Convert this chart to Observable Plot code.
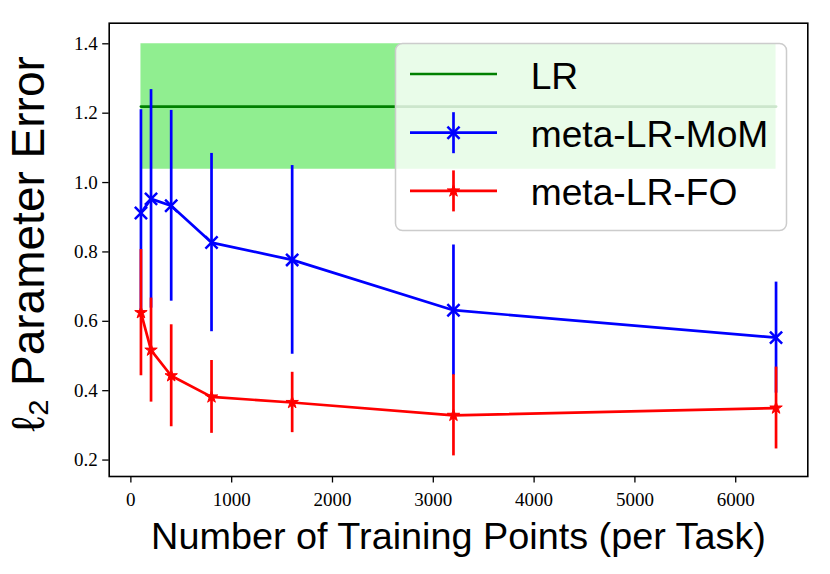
<!DOCTYPE html>
<html>
<head>
<meta charset="utf-8">
<script src="https://cdn.jsdelivr.net/npm/d3@7"></script>
<script src="https://cdn.jsdelivr.net/npm/@observablehq/plot@0.6"></script>
<style>
  html, body { margin: 0; padding: 0; background: #fff; }
  #wrap { position: relative; width: 830px; height: 574px; }
  #legend { position: absolute; left: 0; top: 0; }
</style>
</head>
<body>
<div id="wrap"></div>
<script>
// ---- data ----
const trainPoints = [100, 200, 400, 800, 1600, 3200, 6400];
const momMean = [0.912, 0.953, 0.933, 0.827, 0.777, 0.632, 0.553];
const momErr  = [0.298, 0.315, 0.275, 0.257, 0.272, 0.188, 0.160];
const foMean  = [0.625, 0.517, 0.443, 0.382, 0.366, 0.329, 0.350];
const foErr   = [0.182, 0.150, 0.147, 0.105, 0.087, 0.117, 0.118];
const lrMean = 1.219;
const lrStd = 0.181;
const xTicks = [0, 1000, 2000, 3000, 4000, 5000, 6000];
const yTicks = [0.2, 0.4, 0.6, 0.8, 1.0, 1.2, 1.4];
const seriesNames = ["LR", "meta-LR-MoM", "meta-LR-FO"];
const seriesColors = ["green", "blue", "red"];
const xLabel = "Number of Training Points (per Task)";
const yLabel = "ℓ₂ Parameter Error";

// ---- tables ----
const mom = trainPoints.map((x, i) => ({x, y: momMean[i], lo: momMean[i] - momErr[i], hi: momMean[i] + momErr[i]}));
const fo = trainPoints.map((x, i) => ({x, y: foMean[i], lo: foMean[i] - foErr[i], hi: foMean[i] + foErr[i]}));
const lr = trainPoints.map(x => ({x, y: lrMean, lo: lrMean - lrStd, hi: lrMean + lrStd}));

// matplotlib-like 5% margins
function padded(lo, hi) { const m = (hi - lo) * 0.05; return [lo - m, hi + m]; }
const allY = [...mom, ...fo, ...lr].flatMap(d => [d.lo, d.hi]);
const yDomain = padded(d3.min(allY), d3.max(allY));
const xDomain = padded(d3.min(trainPoints), d3.max(trainPoints));

const sans = "'Liberation Sans', Arial, sans-serif";
const serif = "'Liberation Serif', 'Times New Roman', serif";

const chart = Plot.plot({
  width: 830,
  height: 574,
  marginLeft: 108.7,
  marginRight: 22.7,
  marginTop: 22.7,
  marginBottom: 98,
  style: {background: "white", color: "black"},
  x: {domain: xDomain},
  y: {domain: yDomain},
  marks: [
    Plot.areaY(lr, {x: "x", y1: "lo", y2: "hi", fill: "#90ee90"}),
    Plot.line(lr, {x: "x", y: "y", stroke: seriesColors[0], strokeWidth: 2.7}),
    Plot.ruleX(mom, {x: "x", y1: "lo", y2: "hi", stroke: seriesColors[1], strokeWidth: 2.7}),
    Plot.line(mom, {x: "x", y: "y", stroke: seriesColors[1], strokeWidth: 2.7}),
    Plot.dot(mom, {x: "x", y: "y", symbol: "times", r: 5.6, stroke: seriesColors[1], strokeWidth: 2.5}),
    Plot.ruleX(fo, {x: "x", y1: "lo", y2: "hi", stroke: seriesColors[2], strokeWidth: 2.7}),
    Plot.line(fo, {x: "x", y: "y", stroke: seriesColors[2], strokeWidth: 2.7}),
    Plot.dot(fo, {x: "x", y: "y", symbol: "star", r: 3.9, fill: seriesColors[2], stroke: seriesColors[2], strokeWidth: 1}),
    Plot.axisX({ticks: xTicks, tickFormat: d3.format("d"), tickSize: 6.5, tickPadding: 9.4, strokeWidth: 1.3,
                fontSize: 19, fontFamily: serif, label: null}),
    Plot.axisY({ticks: yTicks, tickFormat: d3.format(".1f"), tickSize: 6.5, tickPadding: 5, strokeWidth: 1.3,
                fontSize: 19, fontFamily: serif, label: null}),
    Plot.frame({stroke: "black", strokeWidth: 1.6}),
    Plot.text([xLabel], {text: d => d, frameAnchor: "bottom", textAnchor: "middle", lineAnchor: "middle",
                         dy: 60, fontSize: 37.8, fontFamily: sans, fill: "black"}),
    Plot.text([yLabel], {text: d => d, frameAnchor: "left", textAnchor: "middle", lineAnchor: "middle",
                         rotate: -90, dx: -80.4, dy: -6, fontSize: 46, fontFamily: sans, fill: "black"})
  ]
});
const wrap = document.getElementById("wrap");
wrap.appendChild(chart);

// ---- legend overlay ----
const leg = d3.select(wrap).append("svg").attr("id", "legend").attr("width", 830).attr("height", 574);
leg.append("rect").attr("x", 395.5).attr("y", 43.5).attr("width", 391).attr("height", 187)
  .attr("rx", 7).attr("fill", "white").attr("fill-opacity", 0.8).attr("stroke", "#cccccc").attr("stroke-width", 1.5);
const rowY = [74, 132.7, 190.9];
seriesNames.forEach((name, i) => {
  const g = leg.append("g");
  const y = rowY[i];
  g.append("line").attr("x1", 410).attr("x2", 497).attr("y1", y).attr("y2", y)
    .attr("stroke", seriesColors[i]).attr("stroke-width", 2.7);
  if (i > 0) {
    g.append("line").attr("x1", 453.5).attr("x2", 453.5).attr("y1", y - 20.5).attr("y2", y + 20.5)
      .attr("stroke", seriesColors[i]).attr("stroke-width", 2.7);
    if (i === 1) {
      g.append("path").attr("d", d3.symbol(d3.symbolTimes, Math.PI * 5.6 * 5.6)())
        .attr("transform", `translate(453.5,${y})`).attr("fill", "none")
        .attr("stroke", seriesColors[i]).attr("stroke-width", 2.5);
    } else {
      g.append("path").attr("d", d3.symbol(d3.symbolStar, Math.PI * 3.9 * 3.9)())
        .attr("transform", `translate(453.5,${y})`).attr("fill", seriesColors[i])
        .attr("stroke", seriesColors[i]).attr("stroke-width", 1);
    }
  }
  g.append("text").attr("x", 530.7).attr("y", y + 14.5).attr("font-family", sans).attr("font-size", 37.2)
    .attr("fill", "black").text(name);
});
</script>
</body>
</html>
